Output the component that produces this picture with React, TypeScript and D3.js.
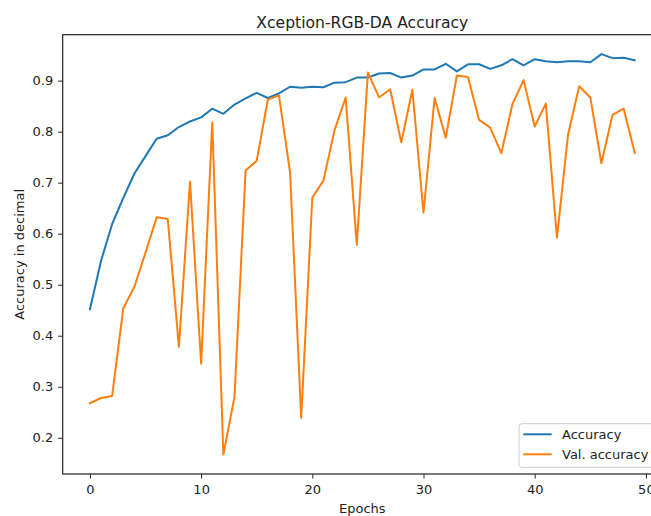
import React, { useEffect, useRef } from 'react';
import * as d3 from 'd3';

const epochs = d3.range(0, 50);

const accuracy = [
  0.452, 0.547, 0.619, 0.670, 0.718, 0.752, 0.786, 0.793, 0.809, 0.820,
  0.828, 0.845, 0.835, 0.853, 0.865, 0.876, 0.866, 0.875, 0.888, 0.886,
  0.888, 0.887, 0.896, 0.897, 0.906, 0.906, 0.914, 0.915, 0.906, 0.910,
  0.922, 0.922, 0.933, 0.918, 0.932, 0.932, 0.923, 0.930, 0.942, 0.930,
  0.942, 0.938, 0.936, 0.938, 0.938, 0.936, 0.952, 0.944, 0.945, 0.940,
];

const valAccuracy = [
  0.268, 0.278, 0.282, 0.454, 0.496, 0.563, 0.632, 0.629, 0.378, 0.702,
  0.345, 0.818, 0.167, 0.280, 0.724, 0.743, 0.863, 0.871, 0.720, 0.239,
  0.671, 0.704, 0.803, 0.867, 0.578, 0.916, 0.867, 0.883, 0.779, 0.882,
  0.641, 0.866, 0.788, 0.910, 0.907, 0.823, 0.808, 0.758, 0.854, 0.901,
  0.810, 0.855, 0.592, 0.794, 0.889, 0.867, 0.738, 0.833, 0.845, 0.758,
];

const xTicks = [0, 10, 20, 30, 40, 50];
const yTicks = [0.2, 0.3, 0.4, 0.5, 0.6, 0.7, 0.8, 0.9];

const seriesNames = ['Accuracy', 'Val. accuracy'];
const seriesColors = ['#1f77b4', '#ff7f0e'];

const App: React.FC = () => {
  const svgRef = useRef<SVGSVGElement | null>(null);

  useEffect(() => {
    if (!svgRef.current) return;
    const svg = d3.select(svgRef.current);
    svg.selectAll('*').remove();

    const width = 651;
    const height = 516;
    const left = 62.7;
    const right = 662; // axes run past the picture edge, like the source
    const top = 34.7;
    const bottom = 474;
    const font = 'DejaVu Sans, sans-serif';

    svg.attr('width', width).attr('height', height);

    // matplotlib-like 5% margins
    const x = d3.scaleLinear().domain([-2.45, 51.45]).range([left, right]);
    const y = d3.scaleLinear().domain([0.129, 0.99]).range([bottom, top]);

    // Lines
    const series = [accuracy, valAccuracy];
    series.forEach((vals, si) => {
      const line = d3.line<number>()
        .x((_, i) => x(epochs[i]))
        .y(d => y(d));
      svg.append('path')
        .datum(vals)
        .attr('d', line)
        .attr('fill', 'none')
        .attr('stroke', seriesColors[si])
        .attr('stroke-width', 2)
        .attr('stroke-linejoin', 'round')
        .attr('stroke-linecap', 'square');
    });

    // Axes
    const xAxis = svg.append('g')
      .attr('transform', `translate(0, ${bottom})`)
      .call(d3.axisBottom(x).tickValues(xTicks).tickSize(4.5).tickPadding(6.5).tickFormat(d3.format('d')));
    const yAxis = svg.append('g')
      .attr('transform', `translate(${left}, 0)`)
      .call(d3.axisLeft(y).tickValues(yTicks).tickSize(4.5).tickPadding(5).tickFormat(d3.format('.1f')));

    [xAxis, yAxis].forEach(g => {
      g.select('.domain').remove();
      g.selectAll('line').attr('stroke', '#222').attr('stroke-width', 1);
      g.selectAll('text')
        .attr('fill', '#222')
        .style('font-family', font)
        .style('font-size', '13px');
    });

    // Spines
    svg.append('rect')
      .attr('x', left)
      .attr('y', top)
      .attr('width', right - left)
      .attr('height', bottom - top)
      .attr('fill', 'none')
      .attr('stroke', '#222')
      .attr('stroke-width', 1.2);

    // Title
    svg.append('text')
      .attr('x', (left + right) / 2)
      .attr('y', 28)
      .attr('text-anchor', 'middle')
      .style('font-family', font)
      .style('font-size', '15.6px')
      .attr('fill', '#222')
      .text('Xception-RGB-DA Accuracy');

    // Axis labels
    svg.append('text')
      .attr('x', (left + right) / 2)
      .attr('y', 512.7)
      .attr('text-anchor', 'middle')
      .style('font-family', font)
      .style('font-size', '13px')
      .attr('fill', '#222')
      .text('Epochs');

    svg.append('text')
      .attr('transform', `translate(24, ${(top + bottom) / 2}) rotate(-90)`)
      .attr('text-anchor', 'middle')
      .style('font-family', font)
      .style('font-size', '13px')
      .attr('fill', '#222')
      .text('Accuracy in decimal');

    // Legend (lower right)
    const legend = svg.append('g').attr('transform', 'translate(519, 423.7)');
    legend.append('rect')
      .attr('width', 137)
      .attr('height', 43.6)
      .attr('rx', 3)
      .attr('fill', 'white')
      .attr('fill-opacity', 0.8)
      .attr('stroke', '#cccccc')
      .attr('stroke-width', 1);

    seriesNames.forEach((name, i) => {
      const row = legend.append('g').attr('transform', `translate(0, ${10.6 + i * 20})`);
      row.append('line')
        .attr('x1', 4.3)
        .attr('x2', 32.7)
        .attr('stroke', seriesColors[i])
        .attr('stroke-width', 2);
      row.append('text')
        .attr('x', 43)
        .attr('dy', '0.35em')
        .style('font-family', font)
        .style('font-size', '13px')
        .attr('fill', '#222')
        .text(name);
    });
  }, []);

  return (
    <svg
      ref={svgRef}
      style={{ position: 'absolute', left: 0, top: 0, background: 'white' }}
    />
  );
};

export default App;
